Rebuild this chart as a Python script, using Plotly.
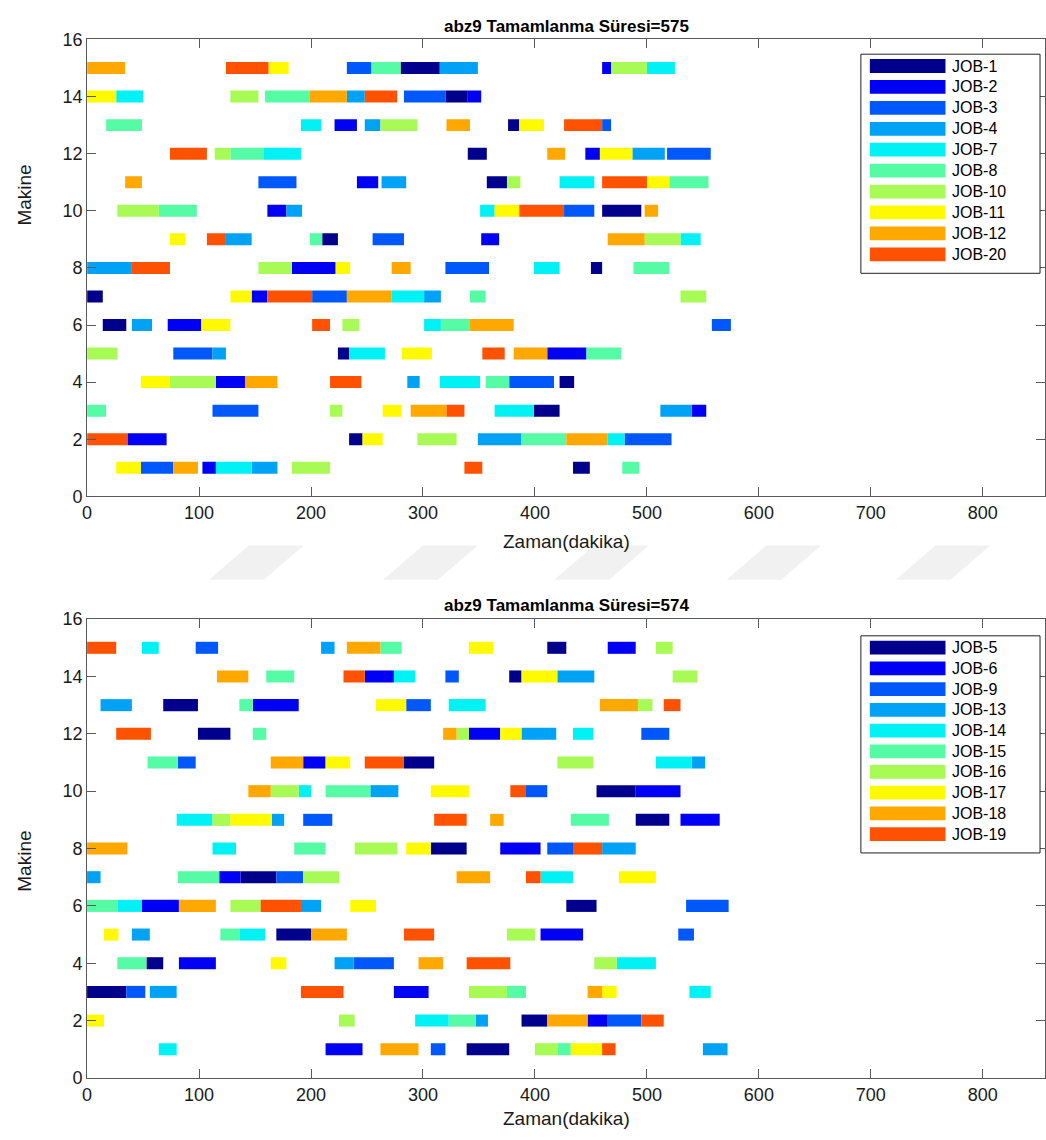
import plotly.graph_objects as go

W, H = 1046, 1140

machines = list(range(1, 16))

# ---- schedule with makespan 575: (start, end) for machine 1..15 ----
JOB_1 = [(434, 449), (234, 246), (399, 422), (422, 435), (224, 234), (14, 35), (0, 14), (450, 460),
         (210, 224), (460, 495), (357, 375), (340, 357), (376, 386), (320, 340), (280, 315)]
JOB_2 = [(103, 115), (36, 71), (540, 553), (115, 141), (411, 446), (72, 102), (147, 161), (183, 222),
         (352, 368), (161, 178), (241, 260), (445, 458), (221, 241), (340, 352), (460, 468)]
JOB_3 = [(48, 77), (480, 522), (112, 153), (377, 417), (77, 112), (558, 575), (201, 232), (320, 359),
         (255, 283), (426, 453), (153, 187), (518, 557), (460, 468), (283, 320), (232, 254)]
JOB_4 = [(147, 170), (349, 388), (512, 540), (286, 297), (112, 124), (40, 58), (301, 316), (0, 40),
         (124, 147), (178, 192), (263, 285), (487, 516), (248, 262), (232, 248), (315, 349)]
JOB_7 = [(115, 147), (465, 480), (364, 399), (315, 351), (234, 266), (301, 316), (272, 301), (399, 422),
         (530, 548), (351, 364), (422, 453), (158, 191), (191, 209), (26, 50), (500, 525)]
JOB_8 = [(478, 493), (388, 428), (0, 17), (356, 377), (446, 477), (316, 342), (342, 356), (488, 520),
         (199, 210), (64, 98), (520, 555), (128, 158), (17, 49), (159, 199), (254, 280)]
JOB_10 = [(183, 217), (295, 330), (217, 228), (74, 115), (0, 27), (228, 243), (530, 553), (153, 183),
          (498, 530), (27, 64), (375, 387), (114, 128), (262, 295), (128, 153), (468, 500)]
JOB_11 = [(26, 48), (246, 264), (264, 281), (48, 74), (281, 308), (102, 128), (128, 147), (222, 235),
          (74, 88), (364, 386), (500, 520), (458, 487), (386, 408), (0, 26), (162, 180)]
JOB_12 = [(77, 99), (428, 465), (289, 321), (141, 170), (381, 411), (342, 381), (232, 272), (272, 289),
          (465, 498), (498, 510), (34, 49), (411, 427), (321, 342), (199, 232), (0, 34)]
JOB_20 = [(337, 353), (0, 36), (321, 337), (217, 245), (353, 373), (201, 217), (161, 201), (40, 74),
          (107, 124), (386, 426), (460, 500), (74, 107), (426, 460), (248, 277), (124, 162)]

# ---- schedule with makespan 574 ----
JOB_5 = [(339, 377), (388, 411), (0, 35), (53, 68), (169, 200), (428, 455), (137, 169), (307, 339),
         (490, 520), (455, 490), (283, 310), (99, 128), (68, 99), (377, 388), (411, 428)]
JOB_6 = [(213, 246), (447, 465), (274, 305), (82, 115), (405, 443), (49, 82), (118, 137), (369, 405),
         (530, 565), (490, 530), (193, 213), (341, 369), (148, 189), (248, 274), (465, 490)]
JOB_9 = [(307, 320), (465, 495), (35, 52), (238, 274), (528, 542), (535, 573), (169, 193), (411, 434),
         (193, 219), (392, 411), (81, 97), (495, 520), (285, 307), (320, 332), (97, 117)]
JOB_13 = [(550, 572), (347, 358), (56, 80), (221, 238), (40, 56), (191, 209), (0, 12), (460, 490),
          (165, 176), (253, 278), (540, 552), (388, 419), (12, 40), (420, 453), (209, 221)]
JOB_14 = [(64, 80), (293, 323), (538, 557), (473, 508), (136, 159), (27, 49), (405, 434), (112, 133),
          (80, 112), (189, 200), (508, 540), (434, 452), (323, 356), (274, 293), (49, 64)]
JOB_15 = [(420, 432), (323, 347), (375, 392), (27, 53), (119, 136), (0, 27), (81, 118), (185, 213),
          (432, 466), (213, 253), (54, 81), (148, 160), (136, 148), (160, 185), (262, 281)]
JOB_16 = [(400, 420), (225, 239), (341, 375), (453, 473), (375, 400), (128, 155), (193, 225), (239, 277),
          (112, 128), (164, 189), (420, 452), (330, 341), (492, 505), (523, 545), (508, 523)]
JOB_17 = [(432, 460), (0, 15), (460, 473), (164, 178), (15, 28), (235, 258), (475, 508), (285, 307),
          (128, 165), (307, 341), (213, 235), (369, 388), (258, 285), (388, 420), (341, 363)]
JOB_18 = [(262, 296), (411, 447), (447, 460), (296, 318), (200, 232), (82, 115), (330, 360), (0, 36),
          (360, 372), (144, 164), (164, 193), (318, 330), (458, 492), (116, 144), (232, 262)]
JOB_19 = [(460, 472), (495, 515), (191, 229), (339, 378), (283, 310), (155, 191), (392, 405), (434, 460),
          (310, 339), (378, 392), (248, 283), (26, 57), (515, 530), (229, 248), (0, 26)]

top_names = ["JOB-1", "JOB-2", "JOB-3", "JOB-4", "JOB-7", "JOB-8", "JOB-10", "JOB-11", "JOB-12", "JOB-20"]
top_jobs = [JOB_1, JOB_2, JOB_3, JOB_4, JOB_7, JOB_8, JOB_10, JOB_11, JOB_12, JOB_20]
bot_names = ["JOB-5", "JOB-6", "JOB-9", "JOB-13", "JOB-14", "JOB-15", "JOB-16", "JOB-17", "JOB-18", "JOB-19"]
bot_jobs = [JOB_5, JOB_6, JOB_9, JOB_13, JOB_14, JOB_15, JOB_16, JOB_17, JOB_18, JOB_19]

makespans = [575, 574]
x_ticks = list(range(0, 801, 100))
y_ticks = list(range(0, 17, 2))

colors = ["#00008C", "#0000F5", "#0058FA", "#00A2F5", "#00F2F5",
          "#55FBA5", "#A8FB55", "#FFFA00", "#FFA800", "#FF5200"]

FONT = "Liberation Sans, Arial, sans-serif"
AX = "#5a5a5a"


def px(x):
    return x / W


def py(y):
    return 1 - y / H


# plot areas in pixels: (left, top, right, bottom)
areas = [(82.5, 30, 1045, 495), (82.5, 620, 1045, 1087)]
X_MAX = (1045 - 82.5) / 1.125

fig = go.Figure()

for k, (names, jobs) in enumerate([(top_names, top_jobs), (bot_names, bot_jobs)]):
    xa = "x" if k == 0 else "x2"
    ya = "y" if k == 0 else "y2"
    for name, job, col in zip(names, jobs, colors):
        starts = [s for s, e in job]
        durs = [e - s for s, e in job]
        fig.add_trace(go.Bar(
            y=machines, x=durs, base=starts, orientation="h", width=0.42,
            marker=dict(color=col, line=dict(width=0)), name=name,
            showlegend=False, xaxis=xa, yaxis=ya,
            hovertemplate=name + " M%{y}: %{base}-%{x}<extra></extra>",
        ))

axis_common = dict(
    showgrid=False, zeroline=False, showline=True, linecolor=AX, linewidth=1,
    mirror="ticks", ticks="inside", ticklen=9, tickcolor=AX,
    tickfont=dict(family=FONT, size=18, color="#1a1a1a"),
)

layout = dict(
    width=W, height=H, margin=dict(l=0, r=0, t=0, b=0),
    plot_bgcolor="white", paper_bgcolor="white", barmode="overlay",
    showlegend=False, font=dict(family=FONT),
)
for k, (l, t, r, b) in enumerate(areas):
    sx = "" if k == 0 else "2"
    layout["xaxis" + sx] = dict(axis_common, domain=[px(l), px(r)], range=[0, X_MAX],
                                tickvals=x_ticks, anchor="y" + sx)
    layout["yaxis" + sx] = dict(axis_common, domain=[py(b), py(t)], range=[0, 16],
                                tickvals=y_ticks, anchor="x" + sx)
fig.update_layout(**layout)

shapes = []
annotations = []

# faint slanted page marks in the gap between the two panels
for x0 in [205, 380, 552, 725, 895]:
    pts = [(x0, 580), (x0 + 55, 580), (x0 + 95, 545), (x0 + 40, 545)]
    path = "M " + " L ".join("%.4f,%.4f" % (px(a), py(b)) for a, b in pts) + " Z"
    shapes.append(dict(type="path", xref="paper", yref="paper", path=path,
                       fillcolor="#F1F1F1", line=dict(width=0), layer="below"))

ylabel_centres = [188, 866]
xlabel_centres = [541, 1128]
for k, (l, t, r, b) in enumerate(areas):
    cx = (l + r) / 2
    annotations.append(dict(
        x=px(cx), y=py(t - 2), xref="paper", yref="paper", xanchor="center", yanchor="bottom",
        text="<b>abz9 Tamamlanma Süresi=%d</b>" % makespans[k], showarrow=False,
        font=dict(family=FONT, size=17, color="black")))
    annotations.append(dict(
        x=px(cx), y=py(xlabel_centres[k]), xref="paper", yref="paper", xanchor="center", yanchor="middle",
        text="Zaman(dakika)", showarrow=False, font=dict(family=FONT, size=19, color="#1a1a1a")))
    annotations.append(dict(
        x=px(20), y=py(ylabel_centres[k]), xref="paper", yref="paper", xanchor="center", yanchor="middle",
        text="Makine", textangle=-90, showarrow=False, font=dict(family=FONT, size=19, color="#1a1a1a")))

# legend panels
legends = [(top_names, 45, 268, 57, 21.3), (bot_names, 637, 858, 649, 21.1)]
for names, top, bottom, first, step in legends:
    shapes.append(dict(type="rect", xref="paper", yref="paper",
                       x0=px(860), x1=px(1040), y0=py(bottom), y1=py(top),
                       line=dict(color="#222222", width=1), fillcolor="white", layer="above"))
    for i, (name, col) in enumerate(zip(names, colors)):
        yc = first + i * step
        shapes.append(dict(type="rect", xref="paper", yref="paper",
                           x0=px(869), x1=px(945), y0=py(yc + 7), y1=py(yc - 7),
                           line=dict(width=0), fillcolor=col, layer="above"))
        annotations.append(dict(
            x=px(950), y=py(yc), xref="paper", yref="paper", xanchor="left", yanchor="middle",
            text=name, showarrow=False, font=dict(family=FONT, size=16, color="black")))

fig.update_layout(shapes=shapes, annotations=annotations)
fig.write_html("out.html")
